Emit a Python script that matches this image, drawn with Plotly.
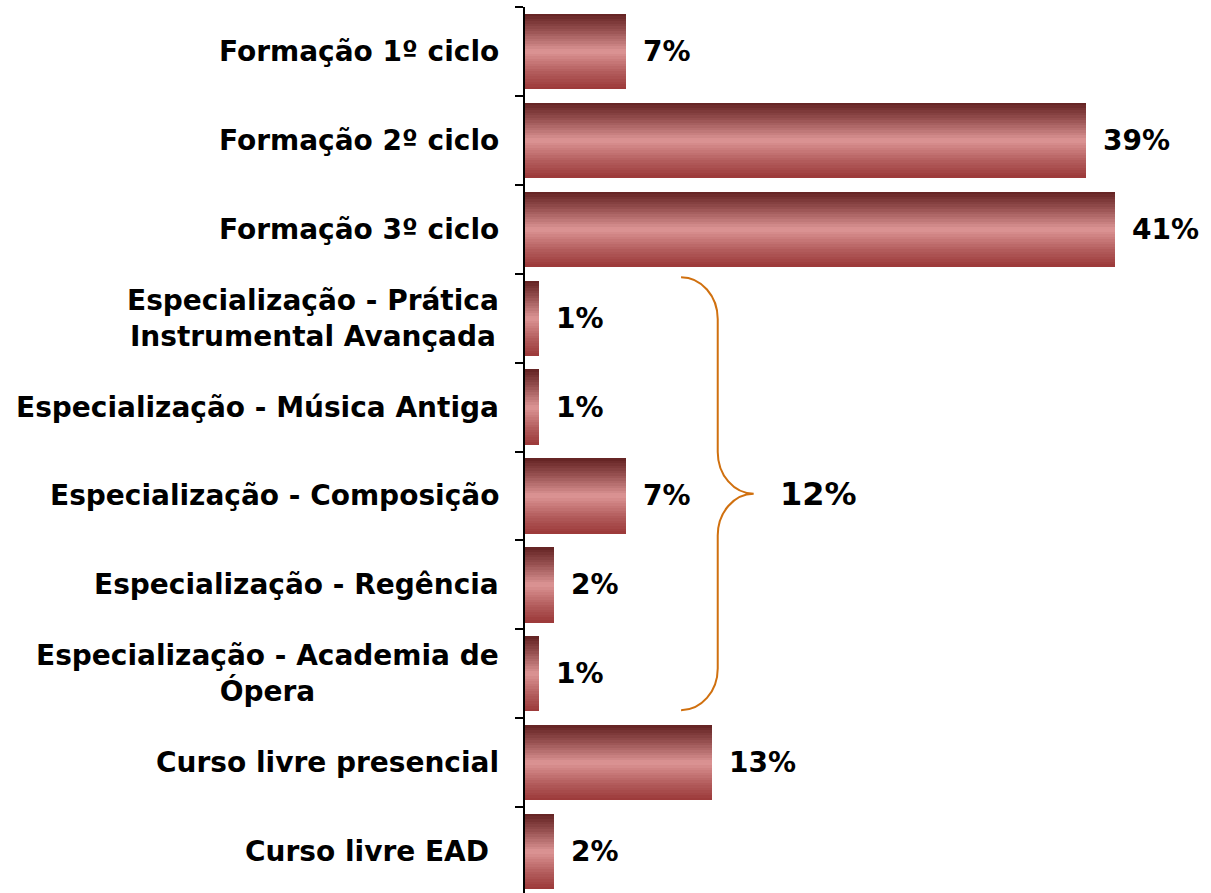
import plotly.graph_objects as go

categories = [
    "Formação 1º ciclo",
    "Formação 2º ciclo",
    "Formação 3º ciclo",
    "Especialização - Prática<br>Instrumental Avançada",
    "Especialização - Música Antiga",
    "Especialização - Composição",
    "Especialização - Regência",
    "Especialização - Academia de<br>Ópera",
    "Curso livre presencial",
    "Curso livre EAD\u00a0",
]
values = [7, 39, 41, 1, 1, 7, 2, 1, 13, 2]
value_labels = ["7%", "39%", "41%", "1%", "1%", "7%", "2%", "1%", "13%", "2%"]
group_indices = [3, 4, 5, 6, 7]  # the Especialização group joined by the brace
group_total_label = "12%"

FONT = "DejaVu Sans"
BAR_W = 0.845
N_SLICES = 30
# vertical gradient stops (top -> bottom)
stops = [(0.0, (98, 34, 34)), (0.22, (150, 80, 80)), (0.5, (221, 149, 149)),
         (0.78, (178, 92, 92)), (1.0, (155, 56, 56))]


def grad(t):
    for (t0, c0), (t1, c1) in zip(stops[:-1], stops[1:]):
        if t0 <= t <= t1:
            f = (t - t0) / (t1 - t0)
            c = [round(a + (b - a) * f) for a, b in zip(c0, c1)]
            return f"rgb({c[0]},{c[1]},{c[2]})"
    c = stops[-1][1]
    return f"rgb({c[0]},{c[1]},{c[2]})"


fig = go.Figure()
sw = BAR_W / N_SLICES
for i in range(N_SLICES):
    fig.add_trace(go.Bar(
        x=values, y=categories, orientation="h",
        width=sw * 1.06, offset=-BAR_W / 2 + i * sw,
        marker=dict(color=grad((i + 0.5) / N_SLICES), line=dict(width=0)),
        hoverinfo="skip", showlegend=False,
    ))

annotations = []
# category labels (centered multi-line, right edge near axis)
for c in categories:
    annotations.append(dict(
        x=0, xref="paper", y=c, yref="y", xanchor="right", yanchor="middle",
        xshift=-24, text=f"<b>{c}</b>", showarrow=False, align="center",
        font=dict(family=FONT, size=28, color="black"),
    ))
# value labels
for c, v, lab in zip(categories, values, value_labels):
    annotations.append(dict(
        x=v, xref="x", y=c, yref="y", xanchor="left", yanchor="middle",
        xshift=15, text=f"<b>{lab}</b>", showarrow=False,
        font=dict(family=FONT, size=28, color="black"),
    ))

# brace around the group
gmax = max(values[i] for i in group_indices)
y_top = group_indices[0] - 0.46
y_bot = group_indices[-1] + 0.41
y_mid = (y_top + y_bot) / 2
x_tip = gmax + 3.85
x_bar = gmax + 6.4
x_pt = gmax + 8.9
r = 0.47
k = 0.55
dx1 = x_bar - x_tip
dx2 = x_pt - x_bar
path = (
    f"M {x_tip},{y_top} "
    f"C {x_tip + k * dx1},{y_top} {x_bar},{y_top + (1 - k) * r} {x_bar},{y_top + r} "
    f"L {x_bar},{y_mid - r} "
    f"C {x_bar},{y_mid - (1 - k) * r} {x_bar + (1 - k) * dx2},{y_mid} {x_pt},{y_mid} "
    f"C {x_bar + (1 - k) * dx2},{y_mid} {x_bar},{y_mid + (1 - k) * r} {x_bar},{y_mid + r} "
    f"L {x_bar},{y_bot - r} "
    f"C {x_bar},{y_bot - (1 - k) * r} {x_tip + k * dx1},{y_bot} {x_tip},{y_bot}"
)
fig.add_shape(type="path", path=path, xref="x", yref="y",
              line=dict(color="#D0700F", width=2))
annotations.append(dict(
    x=x_pt, xref="x", y=y_mid, yref="y", xanchor="left", yanchor="middle",
    xshift=24, text=f"<b>{group_total_label}</b>", showarrow=False,
    font=dict(family=FONT, size=32, color="black"),
))

fig.update_layout(
    width=1211, height=896,
    margin=dict(l=525, r=10, t=7, b=0),
    barmode="overlay", bargap=0,
    plot_bgcolor="white", paper_bgcolor="white",
    annotations=annotations,
    xaxis=dict(range=[0, 47], visible=False, fixedrange=True),
    yaxis=dict(
        type="category", categoryorder="array", categoryarray=categories,
        autorange="reversed", showticklabels=False, showgrid=False,
        showline=True, linecolor="black", linewidth=1.5,
        ticks="outside", tickson="boundaries", ticklen=8,
        tickcolor="black", tickwidth=1.5, zeroline=False, fixedrange=True,
    ),
)

fig.write_html(
    "out.html",
    config={"displayModeBar": False},
    post_script="document.body.style.margin='0';document.body.style.overflow='hidden';",
)
